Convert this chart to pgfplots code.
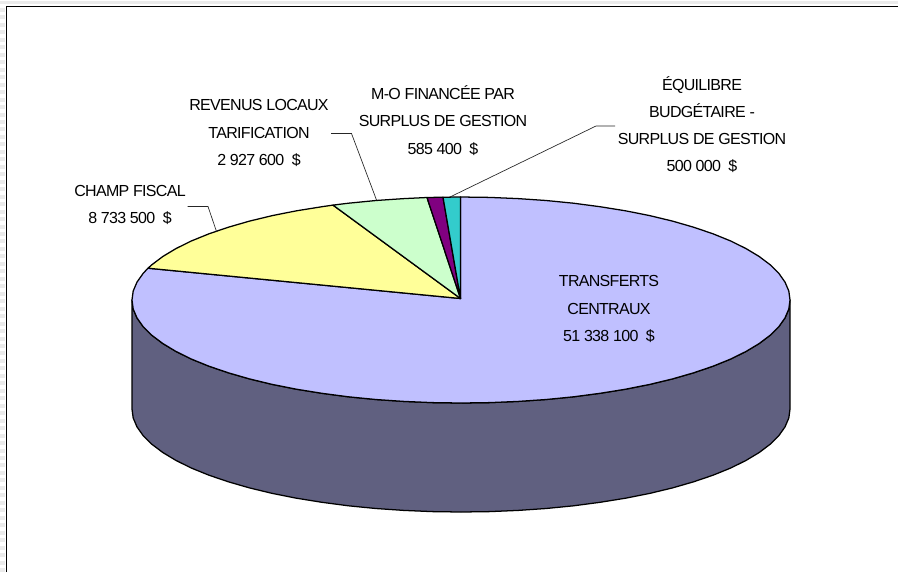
\documentclass[border=0pt]{standalone}
\usepackage{fontspec}
\setmainfont{Liberation Sans}[LetterSpace=-4.3]
\usepackage{pgfplots}
\pgfplotsset{compat=1.18}
\definecolor{cTop}{HTML}{C0C0FF}
\definecolor{cSide}{HTML}{606080}
\definecolor{cYel}{HTML}{FFFF99}
\definecolor{cGrn}{HTML}{CCFFCC}
\definecolor{cPur}{HTML}{800080}
\definecolor{cTea}{HTML}{33CCCC}
\tikzset{lab/.style={font=\fontsize{12}{20.4}\selectfont, align=center, inner sep=0pt, text=black}}
\begin{document}
\begin{tikzpicture}
\begin{axis}[
  at={(0,0)}, anchor=south west,
  scale only axis, width=673.5pt, height=429pt,
  xmin=0, xmax=898, ymin=0, ymax=572, y dir=reverse,
  hide axis,
]
% background
\addplot[fill=white, draw=none] coordinates {(0,0)(898,0)(898,572)(0,572)} --cycle;
% outer strips
\addplot[draw=black!8, line width=2.4pt] coordinates {(0,2.8)(898,2.8)};
\addplot[draw=black!8, line width=3pt, dash pattern=on 3pt off 2.6pt] coordinates {(2.5,8)(2.5,572)};
% frame
\addplot[draw=black, line width=1.2pt] coordinates {(6.5,572)(6.5,6.5)(898,6.5)};
% side of the cylinder
\addplot[fill=cSide, draw=black, line width=.95pt, line join=round] coordinates {
(132,300)(133.2,309)(137,317.9)(143.2,326.7)(151.8,335.2)(162.8,343.5)(176.1,351.5)(191.5,359.1)(209,366.2)(228.4,372.8)(249.5,378.9)(272.3,384.4)(296.5,389.2)(322,393.3)(348.5,396.8)(375.9,399.5)(403.9,401.4)(432.3,402.6)(461,403)
(489.7,402.6)(518.1,401.4)(546.1,399.5)(573.5,396.8)(600,393.3)(625.5,389.2)(649.7,384.4)(672.5,378.9)(693.6,372.8)(713,366.2)(730.5,359.1)(745.9,351.5)(759.2,343.5)(770.2,335.2)(778.8,326.7)(785,317.9)(788.8,309)(790,300)
(790,409)(788.8,418)(785,426.9)(778.8,435.7)(770.2,444.2)(759.2,452.5)(745.9,460.5)(730.5,468.1)(713,475.2)(693.6,481.8)(672.5,487.9)(649.7,493.4)(625.5,498.2)(600,502.3)(573.5,505.8)(546.1,508.5)(518.1,510.4)(489.7,511.6)(461,512)
(432.3,511.6)(403.9,510.4)(375.9,508.5)(348.5,505.8)(322,502.3)(296.5,498.2)(272.3,493.4)(249.5,487.9)(228.4,481.8)(209,475.2)(191.5,468.1)(176.1,460.5)(162.8,452.5)(151.8,444.2)(143.2,435.7)(137,426.9)(133.2,418)(132,409)
} --cycle;
% TRANSFERTS CENTRAUX 51 338 100
\addplot[fill=cTop, draw=black, line width=.95pt, line join=round] coordinates {
(460.5,298.5)(460.5,197)(489.7,197.4)(518.1,198.6)(546.1,200.5)(573.5,203.2)(600,206.7)(625.5,210.8)(649.7,215.6)(672.5,221.1)(693.6,227.2)(713,233.8)(730.5,240.9)(745.9,248.5)(759.2,256.5)(770.2,264.8)(778.8,273.3)(785,282.1)(788.8,291)(790,300)
(788.8,309)(785,317.9)(778.8,326.7)(770.2,335.2)(759.2,343.5)(745.9,351.5)(730.5,359.1)(713,366.2)(693.6,372.8)(672.5,378.9)(649.7,384.4)(625.5,389.2)(600,393.3)(573.5,396.8)(546.1,399.5)(518.1,401.4)(489.7,402.6)(461,403)
(432.3,402.6)(403.9,401.4)(375.9,399.5)(348.5,396.8)(322,393.3)(296.5,389.2)(272.3,384.4)(249.5,378.9)(228.4,372.8)(209,366.2)(191.5,359.1)(176.1,351.5)(162.8,343.5)(151.8,335.2)(143.2,326.7)(137,317.9)(133.2,309)(132,300)
(133.2,291)(137,282.1)(143.2,273.3)(148,268.2)
} --cycle;
% CHAMP FISCAL 8 733 500
\addplot[fill=cYel, draw=black, line width=.95pt, line join=round] coordinates {
(460.5,298.5)(148,268.2)(151.8,264.8)(162.8,256.5)(176.1,248.5)(191.5,240.9)(209,233.8)(228.4,227.2)(249.5,221.1)(272.3,215.6)(296.5,210.8)(322,206.7)(333,205.1)
} --cycle;
% REVENUS LOCAUX 2 927 600
\addplot[fill=cGrn, draw=black, line width=.95pt, line join=round] coordinates {
(460.5,298.5)(333,205.1)(348.5,203.2)(375.9,200.5)(403.9,198.6)(427,197.5)
} --cycle;
% M-O 585 400
\addplot[fill=cPur, draw=black, line width=.95pt, line join=round] coordinates {
(460.5,298.5)(427,197.5)(443,197.2)
} --cycle;
% EQUILIBRE 500 000
\addplot[fill=cTea, draw=black, line width=.95pt, line join=round] coordinates {
(460.5,298.5)(443,197.2)(460.5,197)
} --cycle;
% leader lines
\addplot[draw=black!85, line width=.5pt] coordinates {(187.5,206.5)(208,206.5)(216.5,231.5)};
\addplot[draw=black!85, line width=.5pt] coordinates {(331,133.5)(351.5,133.5)(376.5,200)};
\addplot[draw=black!85, line width=.5pt] coordinates {(615,126)(596,126)(450,197)};
% labels
\node[lab] at (axis cs:609,309) {TRANSFERTS\\CENTRAUX\\51 338 100~~\$};
\node[lab] at (axis cs:702,124.5) {ÉQUILIBRE\\BUDGÉTAIRE -\\SURPLUS DE GESTION\\500 000~~\$};
\node[lab] at (axis cs:443,120.5) {M-O FINANCÉE PAR\\SURPLUS DE GESTION\\585 400~~\$};
\node[lab] at (axis cs:259,133) {REVENUS LOCAUX\\TARIFICATION\\2 927 600~~\$};
\node[lab] at (axis cs:130,205) {CHAMP FISCAL\\8 733 500~~\$};
\end{axis}
\end{tikzpicture}
\end{document}
